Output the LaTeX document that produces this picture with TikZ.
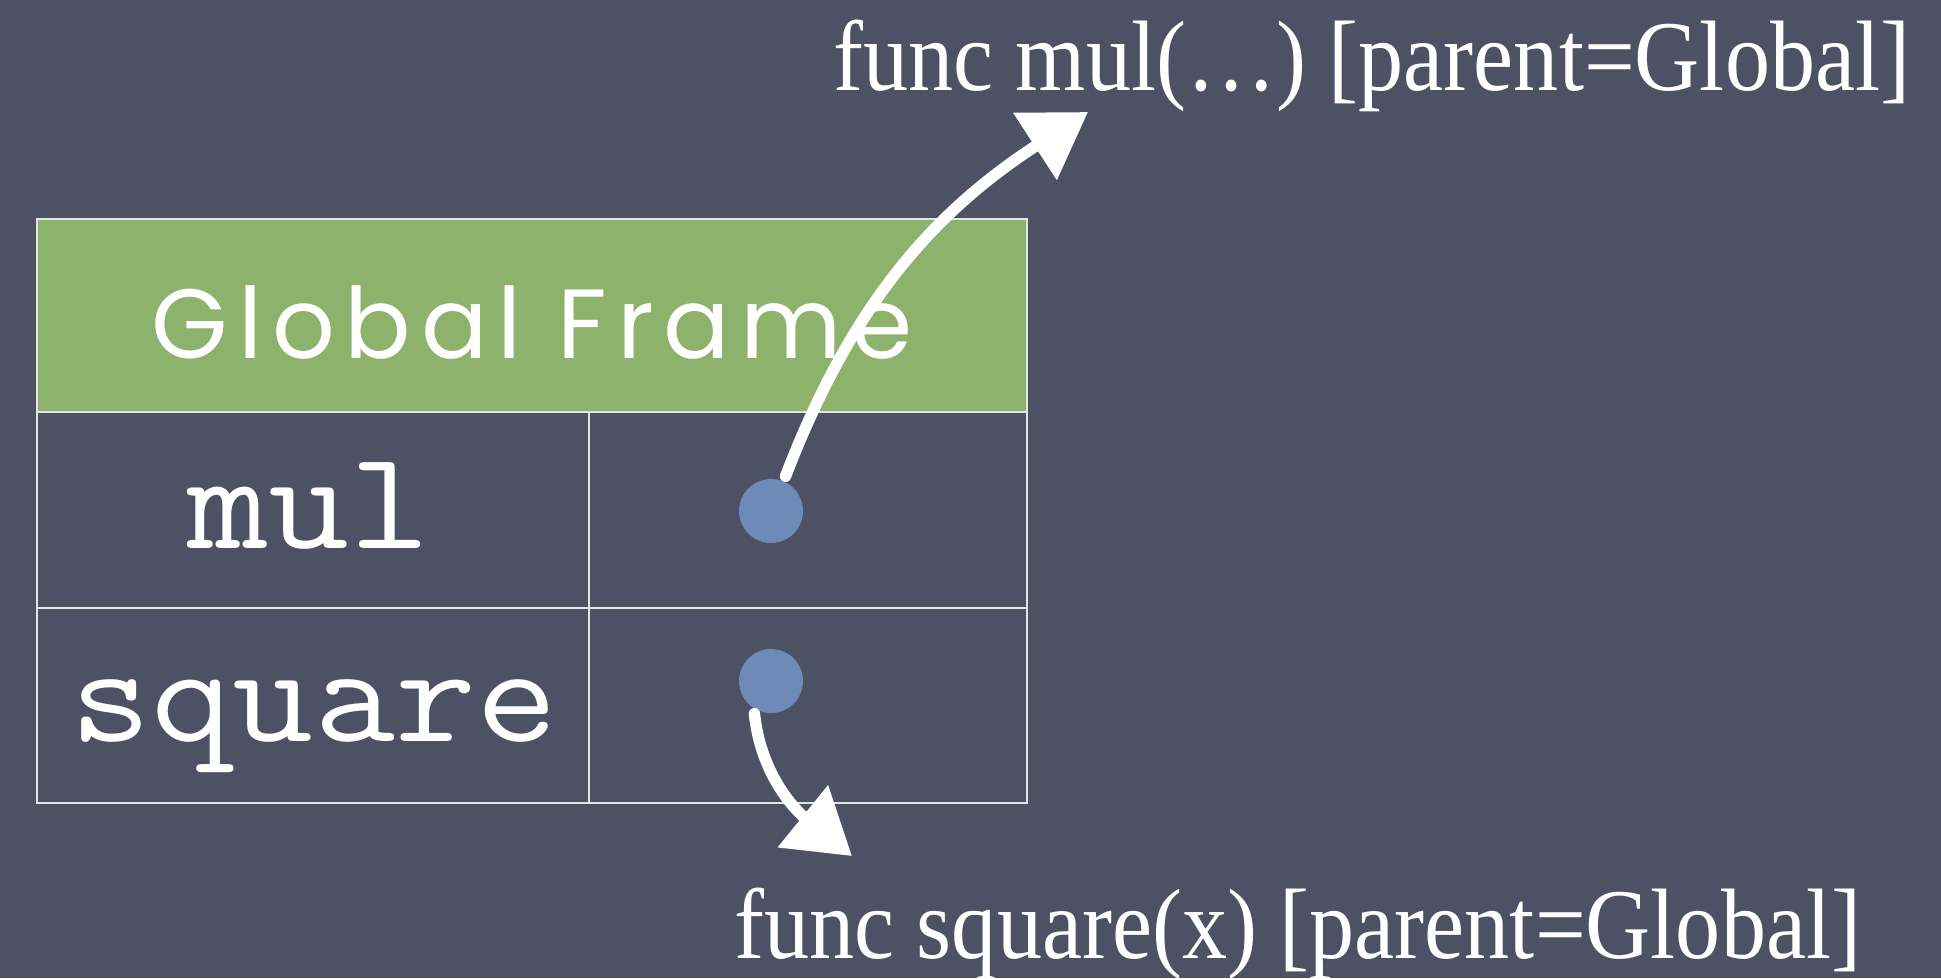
\documentclass[tikz,border=0pt]{standalone}
\usepackage{fontspec}
\setmainfont{Liberation Serif}
\newfontfamily\codefont[FakeStretch=1.12]{Latin Modern Mono}
\newfontfamily\labelfont[FakeStretch=0.9]{Liberation Serif}
\newfontfamily\chalkfont[LetterSpace=10]{Poppins}
\usetikzlibrary{arrows.meta}
\definecolor{board}{RGB}{76,82,99}
\definecolor{headgreen}{RGB}{140,178,108}
\definecolor{dotblue}{RGB}{110,138,182}
\definecolor{gridline}{RGB}{228,228,228}
\tikzset{
  cell/.style={draw=gridline, line width=1.4pt},
  dot/.style={circle, fill=dotblue, minimum size=1.28cm, inner sep=0pt},
  varname/.style={anchor=base, text=white, font=\codefont\fontsize{80}{80}\selectfont},
  funclabel/.style={anchor=base west, text=white, font=\labelfont\fontsize{57}{57}\selectfont},
  chalk/.style={draw=white, line width=6.5pt, line cap=round, -{Triangle[length=36pt,width=44pt]}}
}
\begin{document}
\begin{tikzpicture}[x=0.02cm,y=0.02cm]
\useasboundingbox (0,0) rectangle (1941,-978);
% Board
\fill[board] (0,0) rectangle (1941,-978);
% Global frame
\fill[headgreen] (37,-219) rectangle (1027,-412);
\draw[cell] (37,-219) rectangle (1027,-803);
\draw[cell] (37,-412) -- (1027,-412) (37,-608) -- (1027,-608) (589,-412) -- (589,-803);
\node[anchor=base, text=white, font=\chalkfont\fontsize{56}{56}\selectfont] (frame) at (532,-358) {Global Frame};
\node[varname] (mulname) at (309,-548) {mul};
\node[varname] (sqname) at (314,-741) {square};
% Bindings
\node[dot] (muldot) at (771,-511) {};
\node[dot] (sqdot) at (771,-681) {};
% Function values
\node[funclabel] (mulfunc) at (827,-90) {func mul(…) [parent=Global]};
\node[funclabel] (sqfunc) at (728,-958) {func square(x) [parent=Global]};
\coordinate (multip) at (1088,-112);
\coordinate (sqtip) at (852,-856);
\draw[chalk, shorten <=3pt] (muldot.67) to[out=69,in=213] (multip);
\draw[chalk, shorten <=3pt] (sqdot.238) to[out=276,in=141] (sqtip);
\end{tikzpicture}
\end{document}
